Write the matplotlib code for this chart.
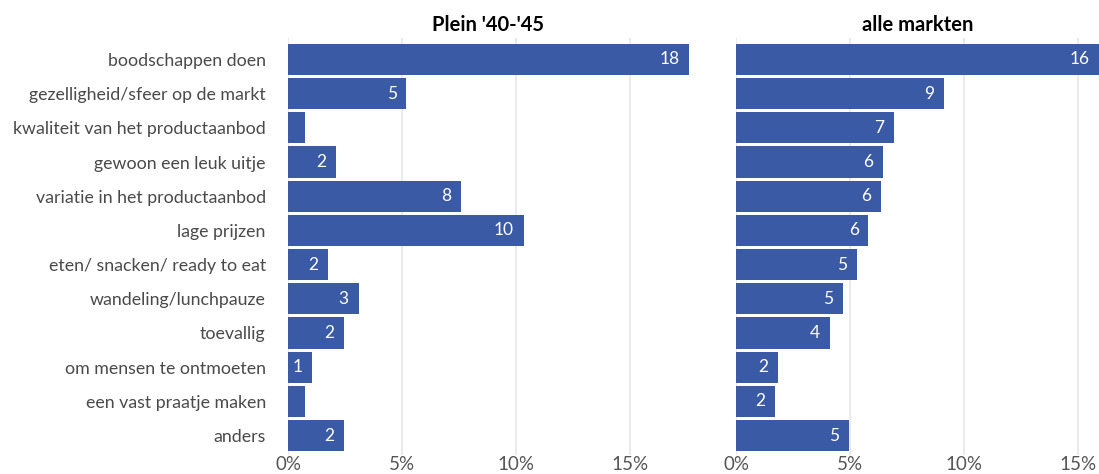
import matplotlib.pyplot as plt
import numpy as np

plt.rcParams['font.family'] = ['Lato', 'DejaVu Sans']

categories = ['boodschappen doen', 'gezelligheid/sfeer op de markt',
              'kwaliteit van het productaanbod', 'gewoon een leuk uitje',
              'variatie in het productaanbod', 'lage prijzen',
              'eten/ snacken/ ready to eat', 'wandeling/lunchpauze',
              'toevallig', 'om mensen te ontmoeten', 'een vast praatje maken',
              'anders']
plein = [17.6, 5.2, 0.75, 2.1, 7.6, 10.35, 1.75, 3.1, 2.45, 1.05, 0.75, 2.45]
alle = [15.9, 9.1, 6.9, 6.45, 6.35, 5.8, 5.3, 4.7, 4.1, 1.85, 1.7, 4.95]
titles = ["Plein '40-'45", 'alle markten']

bar_color = '#3A5AA5'
fig = plt.figure(figsize=(10.99, 4.74), dpi=100)
ax1 = fig.add_axes([288 / 1099, 0.040, 401 / 1099, 0.880])
ax2 = fig.add_axes([736 / 1099, 0.040, 363 / 1099, 0.880])

y = np.arange(len(categories))
for ax, vals, title in [(ax1, plein, titles[0]), (ax2, alle, titles[1])]:
    ax.barh(y, vals, height=0.91, color=bar_color, zorder=2)
    ax.set_xlim(0, max(vals))
    ax.set_ylim(11.57, -0.63)
    ax.set_xticks([0, 5, 10, 15])
    ax.set_xticklabels(['0%', '5%', '10%', '15%'])
    ax.grid(axis='x', color='#e6e6e6', linewidth=1.2, zorder=0)
    for s in ax.spines.values():
        s.set_visible(False)
    ax.tick_params(axis='both', length=0, labelsize=13.5, labelcolor='#555555')
    ax.tick_params(axis='x', pad=1)
    ax.set_title(title, fontsize=14.5, fontweight='bold', pad=5)
    for yi, v in zip(y, vals):
        if v >= 1:
            ax.annotate(f'{round(v)}', (v, yi), xytext=(-7, 0),
                        textcoords='offset points', color='white',
                        fontsize=12.5, ha='right', va='center', zorder=3)

ax1.set_yticks(y)
ax1.set_yticklabels(categories)
ax1.tick_params(axis='y', pad=16, labelsize=12.8, labelcolor='#4a4a4a')
ax2.set_yticks([])

fig.savefig('out.png', dpi=100)
